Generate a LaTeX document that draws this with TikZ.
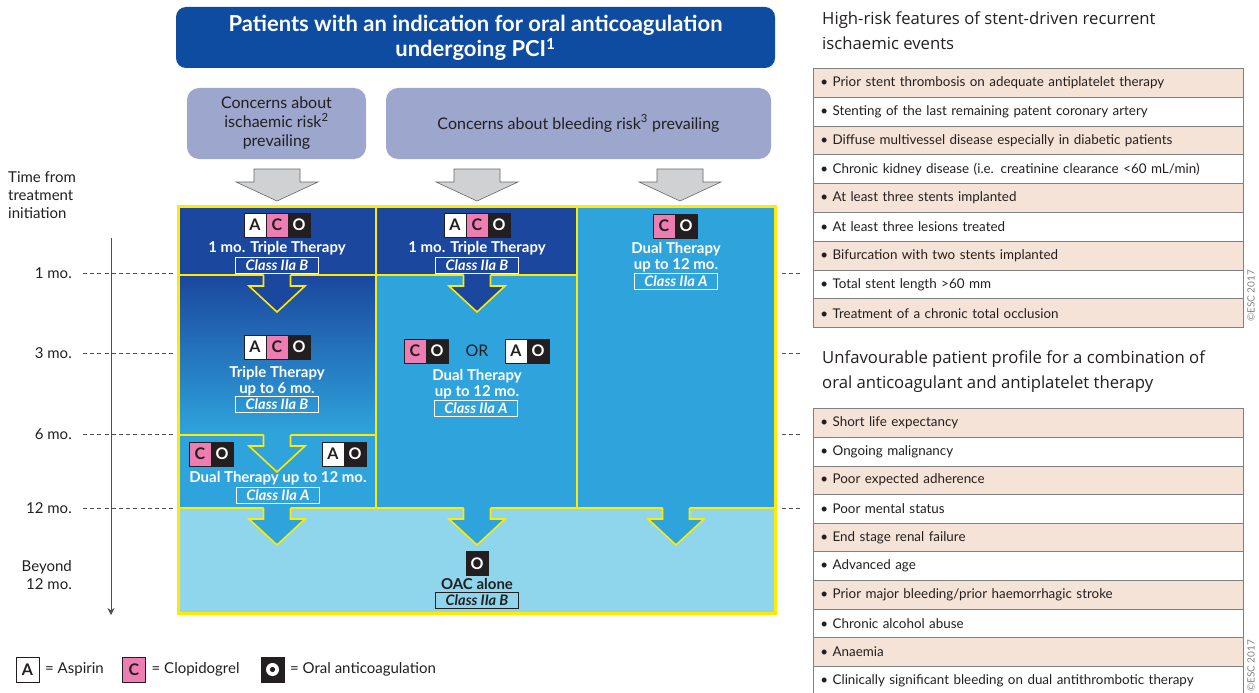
\documentclass[tikz,border=0pt]{standalone}
\usepackage{fontspec}
\setmainfont{Lato}
\newfontfamily\headfont{Open Sans}
\usetikzlibrary{arrows.meta,positioning}
\definecolor{titleblue}{HTML}{0E4CA1}
\definecolor{concern}{HTML}{9DA6CC}
\definecolor{darkcell}{HTML}{1B479E}
\definecolor{midcell}{HTML}{1C70B9}
\definecolor{lightcell}{HTML}{2FA4DC}
\definecolor{palecell}{HTML}{8FD6EC}
\definecolor{ylw}{HTML}{FFEA00}
\definecolor{greyarrow}{HTML}{D0D1D3}
\definecolor{pinkC}{HTML}{EE7DB2}
\definecolor{inkblack}{HTML}{231F20}
\definecolor{rowpink}{HTML}{F6E3D8}
\definecolor{rowline}{HTML}{808080}

% block arrow with yellow outline: centre x, top y, fill
\newcommand{\yarrow}[3]{%
\fill[#3] ({#1-13.5},{#2-1.5}) -- ({#1-13.5},{#2+11}) -- ({#1-28},{#2+11}) -- (#1,{#2+37})
  -- ({#1+28},{#2+11}) -- ({#1+13.5},{#2+11}) -- ({#1+13.5},{#2-1.5}) -- cycle;
\draw[ylw, line width=1.6] ({#1-13.5},#2) -- ({#1-13.5},{#2+11}) -- ({#1-28},{#2+11}) -- (#1,{#2+37})
  -- ({#1+28},{#2+11}) -- ({#1+13.5},{#2+11}) -- ({#1+13.5},#2);
}

\begin{document}
\begin{tikzpicture}[x=1pt, y=-1pt]
\tikzstyle{sq}=[rectangle, outer sep=0, inner sep=0, minimum width=22, minimum height=24,
  draw=inkblack, line width=0.6, font=\bfseries\fontsize{16}{16}\selectfont]
\tikzstyle{asq}=[sq, fill=white, text=inkblack]
\tikzstyle{csq}=[sq, fill=pinkC, text=inkblack]
\tikzstyle{osq}=[sq, fill=inkblack, text=white]
\tikzstyle{celltext}=[text=white, align=center, inner sep=0,
  font=\bfseries\fontsize{15}{16.5}\selectfont]
\tikzstyle{classbox}=[draw=white, line width=0.8, text=white, inner sep=0,
  minimum width=83, minimum height=16, font=\bfseries\itshape\fontsize{14.5}{14.5}\selectfont]
\tikzstyle{concernbox}=[rectangle, rounded corners=12, fill=concern, text=inkblack,
  align=center, minimum height=71, font=\fontsize{16}{19}\selectfont]
\tikzstyle{timelabel}=[anchor=east, inner sep=0, text=inkblack, align=right,
  font=\fontsize{15}{18}\selectfont]
\tikzstyle{rowbox}=[anchor=north west, draw=rowline, line width=0.8, minimum width=430,
  minimum height=28.8, text width=416, inner xsep=7, inner ysep=0, align=left,
  text=inkblack, font=\fontsize{13.4}{13.4}\selectfont]
\tikzstyle{headtext}=[anchor=west, align=left, inner sep=0, text=inkblack,
  font=\headfont\fontsize{16.7}{25}\selectfont]
\tikzstyle{esc}=[rotate=90, inner sep=0, text=gray, font=\fontsize{10}{10}\selectfont]
\tikzstyle{legtext}=[anchor=west, inner sep=0, text=inkblack, font=\fontsize{15}{15}\selectfont]

\useasboundingbox (0,0) rectangle (1259,693);

% heading and concerns
\node[rectangle, rounded corners=10, fill=titleblue, minimum width=599, minimum height=61,
  text=white, align=center, font=\bfseries\fontsize{22}{25}\selectfont, text depth=3]
  (title) at (475.5,37.5) {Patients with an indication for oral anticoagulation\\undergoing PCI\textsuperscript{1}};
\node[concernbox, minimum width=179, text depth=3] (ischaemic) at (276.5,123.5)
  {Concerns about\\ischaemic risk\textsuperscript{2}\\prevailing};
\node[concernbox, minimum width=385] (bleeding) at (578.5,123.5)
  {Concerns about bleeding risk\textsuperscript{3} prevailing};

% grey arrows
\foreach \cx in {277,477,680}{
  \draw[fill=greyarrow, draw=gray!80!black, line width=0.6]
    ({\cx-23},169) -- ({\cx-23},182) -- ({\cx-41},182) -- (\cx,201)
    -- ({\cx+41},182) -- ({\cx+23},182) -- ({\cx+23},169) -- cycle;
}

% cells
\fill[darkcell] (178,206) rectangle (577,275);
\shade[top color=darkcell, middle color=midcell, bottom color=lightcell] (178,275) rectangle (376,435);
\fill[lightcell] (178,435) rectangle (376,508);
\fill[lightcell] (376,275) rectangle (577,508);
\fill[lightcell] (577,206) rectangle (775,508);
\fill[palecell] (178,508) rectangle (775,613);
\draw[ylw, line width=2] (376,206) -- (376,508);
\draw[ylw, line width=2] (577,206) -- (577,508);
\draw[ylw, line width=2] (178,275) -- (577,275);
\draw[ylw, line width=2] (178,435) -- (376,435);
\draw[ylw, line width=2] (178,508) -- (775,508);
\draw[ylw, line width=3] (178,206) rectangle (775,613);

% arrows between the cells
\yarrow{277}{275}{darkcell}
\yarrow{477}{275}{darkcell}
\yarrow{277}{435}{lightcell}
\yarrow{277}{508}{lightcell}
\yarrow{477}{508}{lightcell}
\yarrow{676}{508}{lightcell}

% column 1
\node[asq] (a1) at (255,225) {A};
\node[csq, right=0pt of a1] (c1) {C};
\node[osq, right=0pt of c1] (o1) {O};
\node[celltext] (t1) at (277,248) {1 mo. Triple Therapy};
\node[classbox] (k1) at (277,265) {Class IIa B};
\node[asq] (a2) at (255,347) {A};
\node[csq, right=0pt of a2] (c2) {C};
\node[osq, right=0pt of c2] (o2) {O};
\node[celltext] (t2) at (277,381) {Triple Therapy\\up to 6 mo.};
\node[classbox] (k2) at (277,404.5) {Class IIa B};
\node[csq] (c3) at (200,454) {C};
\node[osq, right=0pt of c3] (o3) {O};
\node[asq] (a4) at (333,454) {A};
\node[osq, right=0pt of a4] (o4) {O};
\node[celltext] (t3) at (278,478) {Dual Therapy up to 12 mo.};
\node[classbox] (k3) at (278,495.5) {Class IIa A};

% column 2
\node[asq] (a5) at (455,225) {A};
\node[csq, right=0pt of a5] (c5) {C};
\node[osq, right=0pt of c5] (o5) {O};
\node[celltext] (t5) at (477,248) {1 mo. Triple Therapy};
\node[classbox] (k5) at (477,265) {Class IIa B};
\node[csq] (c6) at (415,351) {C};
\node[osq, right=0pt of c6] (o6) {O};
\node[text=inkblack, font=\fontsize{16}{16}\selectfont] (or) at (477,351) {OR};
\node[asq] (a7) at (516,351) {A};
\node[osq, right=0pt of a7] (o7) {O};
\node[celltext] (t6) at (477,384) {Dual Therapy\\up to 12 mo.};
\node[classbox] (k6) at (476,408.5) {Class IIa A};

% column 3
\node[csq] (c8) at (664,226) {C};
\node[osq, right=0pt of c8] (o8) {O};
\node[celltext] (t8) at (676,257) {Dual Therapy\\up to 12 mo.};
\node[classbox] (k8) at (676,281.5) {Class IIa A};

% beyond 12 months
\node[osq] (o9) at (477,563.5) {O};
\node[celltext, text=inkblack] (t9) at (477,584) {OAC alone};
\node[classbox, draw=inkblack, text=inkblack] (k9) at (477,600.5) {Class IIa B};

% time axis
\node[anchor=north west, inner sep=0, align=left, text=inkblack,
  font=\fontsize{15}{18}\selectfont] (tlabel) at (8,171) {Time from\\treatment\\initiation};
\coordinate (tstart) at (111,238);
\coordinate (tend) at (111,615);
\draw[-{Stealth[length=7, width=7]}, inkblack!80, line width=0.8] (tstart) -- (tend);
\foreach \ty/\tl in {273/1 mo., 353/3 mo., 434/6 mo., 508/12 mo.}{
  \node[timelabel] at (72,\ty) {\tl};
  \draw[inkblack!80, line width=0.9, dash pattern=on 4 off 3.2] (83,\ty) -- (176,\ty);
  \draw[inkblack!80, line width=0.9, dash pattern=on 4 off 3.2] (782,\ty) -- (801,\ty);
}
\node[timelabel] (beyond) at (72,575) {Beyond\\12 mo.};

% legend
\node[asq, minimum width=23, minimum height=25] (la) at (27.5,669.5) {A};
\node[legtext, right=6pt of la] (lta) {= Aspirin};
\node[csq, minimum width=23, minimum height=25] (lc) at (134,669.5) {C};
\node[legtext, right=6pt of lc] (ltc) {= Clopidogrel};
\node[osq, minimum width=23, minimum height=25] (lo) at (272.5,669.5) {};
\fill[white] (lo) circle (6.5);
\fill[inkblack] (lo) circle (2.6);
\node[legtext, right=6pt of lo] (lto) {= Oral anticoagulation};

% high-risk features
\node[headtext] (head1) at (822,30.5) {High-risk features of stent-driven recurrent\\ischaemic events};
\foreach \txt [count=\i] in {Prior stent thrombosis on adequate antiplatelet therapy,
  Stenting of the last remaining patent coronary artery,
  Diffuse multivessel disease especially in diabetic patients,
  Chronic kidney disease (i.e. creatinine clearance <60 mL/min),
  At least three stents implanted,
  At least three lesions treated,
  Bifurcation with two stents implanted,
  Total stent length >60 mm,
  Treatment of a chronic total occlusion}{
  \ifodd\i \def\rowfill{rowpink}\else \def\rowfill{white}\fi
  \node[rowbox, fill=\rowfill] (hr\i) at (813,{68+28.8*(\i-1)}) {\textbullet\ \txt};
}
\node[esc] (esc1) at (1251,296) {©ESC 2017};

% unfavourable profile
\node[headtext] (head2) at (822,372) {Unfavourable patient profile for a combination of\\oral anticoagulant and antiplatelet therapy};
\foreach \txt [count=\i] in {Short life expectancy,
  Ongoing malignancy,
  Poor expected adherence,
  Poor mental status,
  End stage renal failure,
  Advanced age,
  Prior major bleeding/prior haemorrhagic stroke,
  Chronic alcohol abuse,
  Anaemia,
  Clinically significant bleeding on dual antithrombotic therapy}{
  \ifodd\i \def\rowfill{rowpink}\else \def\rowfill{white}\fi
  \node[rowbox, minimum height=28.6, fill=\rowfill] (up\i) at (813,{408.3+28.6*(\i-1)}) {\textbullet\ \txt};
}
\node[esc] (esc2) at (1251,666) {©ESC 2017};
\end{tikzpicture}
\end{document}
